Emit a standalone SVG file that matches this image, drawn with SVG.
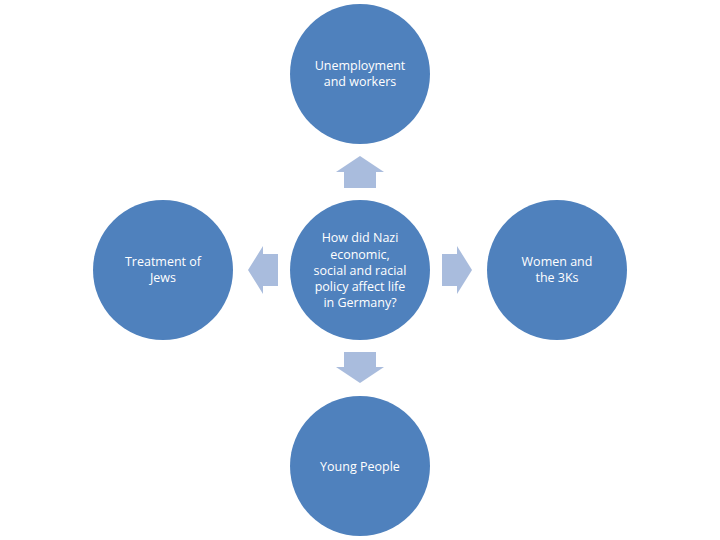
<svg xmlns="http://www.w3.org/2000/svg" width="720" height="540" viewBox="0 0 720 540">
<style>
.n{fill:#4F81BD}
.a{fill:#A9BCDD}
text{font-family:"Open Sans","Liberation Sans",sans-serif;font-size:12.5px;fill:#fff;text-anchor:middle}
</style>
<rect width="720" height="540" fill="#fff"/>
<g id="connectors">
<polygon class="a" points="360,156 384,172 376,172 376,188 344,188 344,172 336,172"/>
<polygon class="a" points="360,383 384,367 376,367 376,352 344,352 344,367 336,367"/>
<polygon class="a" points="248,270 263,246 263,254 278,254 278,286 263,286 263,294"/>
<polygon class="a" points="472,270 457,246 457,254 442,254 442,286 457,286 457,294"/>
</g>
<g id="center"><circle class="n" cx="360" cy="270" r="70"/>
<text x="360" y="242">How did Nazi</text><text x="360" y="259">economic,</text><text x="360" y="275">social and racial</text><text x="360" y="291">policy affect life</text><text x="360" y="307">in Germany?</text></g>
<g id="top"><circle class="n" cx="360" cy="74" r="70"/><text x="360" y="70">Unemployment</text><text x="360" y="86">and workers</text></g>
<g id="bottom"><circle class="n" cx="360" cy="466" r="70"/><text x="360" y="471">Young People</text></g>
<g id="left"><circle class="n" cx="163" cy="270" r="70"/><text x="163" y="266">Treatment of</text><text x="163" y="282">Jews</text></g>
<g id="right"><circle class="n" cx="557" cy="270" r="70"/><text x="557" y="266">Women and</text><text x="557" y="282">the 3Ks</text></g>
</svg>
